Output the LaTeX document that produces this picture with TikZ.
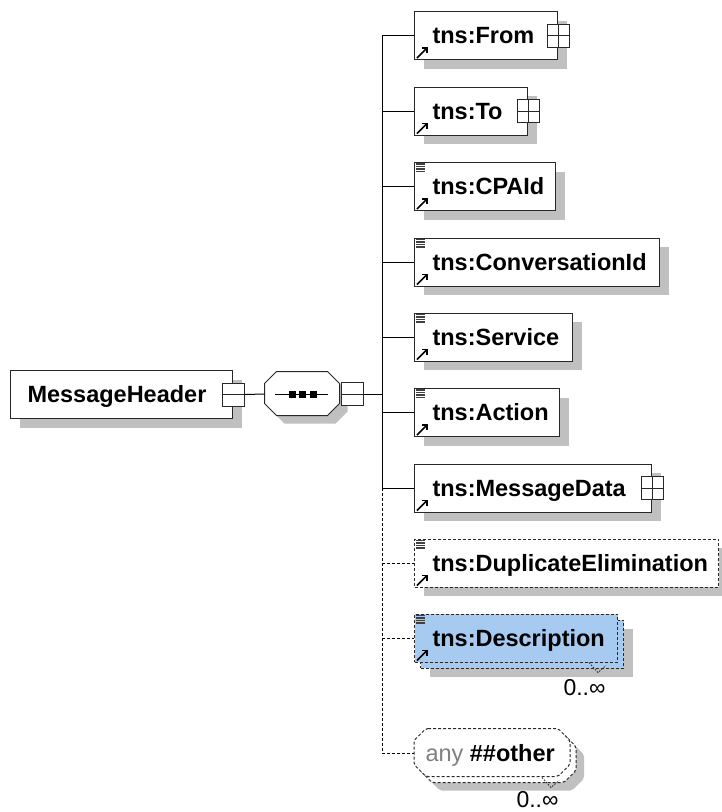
\documentclass[tikz,border=0pt]{standalone}
\usepackage{fontspec}
\setmainfont{Liberation Sans}
\usetikzlibrary{shadows}
\definecolor{shadowgray}{RGB}{192,192,192}
\definecolor{descblue}{RGB}{166,202,240}
\definecolor{anygray}{RGB}{128,128,128}
\definecolor{edge}{RGB}{40,40,40}
\newcommand\xsdlines[1]{\begin{scope}[shift={(#1.north west)}]
  \foreach \d in {2,4.5,7,9.5}{\draw[line width=1.1pt,black!75] (2,\d) -- (11,\d);}
\end{scope}}
\newcommand\xsdarrow[1]{\begin{scope}[shift={(#1.south west)},line width=1.5pt,black]
  \draw (3,-2) -- (13,-12);
  \draw (8,-12) -- (13,-12) -- (13,-7);
\end{scope}}
\begin{document}
\begin{tikzpicture}[x=1pt,y=-1pt,line width=1pt,
  elem/.style={rectangle,draw=edge,fill=white,line width=1pt,minimum height=48pt,inner sep=0pt,anchor=west},
  shad/.style={drop shadow={shadow xshift=9pt,shadow yshift=-9pt,opacity=1,fill=shadowgray,draw=none}},
  opt/.style={dash pattern=on 3pt off 2pt},
  lbl/.style={font=\bfseries\fontsize{23.5pt}{28pt}\selectfont,inner sep=0pt,anchor=base west,text=black},
  pmbox/.style={rectangle,draw=edge,fill=white,line width=1pt,minimum width=22pt,minimum height=23pt,inner sep=0pt},
  plusbox/.style={pmbox,path picture={\draw[line width=0.9pt] (path picture bounding box.north) -- (path picture bounding box.south) (path picture bounding box.west) -- (path picture bounding box.east);}},
  minusbox/.style={pmbox,path picture={\draw[line width=0.9pt] (path picture bounding box.west) -- (path picture bounding box.east);}},
  conn/.style={draw=black,line width=1pt},
  mult/.style={font=\fontsize{23pt}{28pt}\selectfont,inner sep=0pt,anchor=base east},
  chev/.style={draw=edge,line width=0.8pt,dash pattern=on 1.5pt off 1.5pt},
  frame/.style={rectangle,minimum height=48pt,inner sep=0pt,anchor=west}]
\useasboundingbox (0,0) rectangle (722,812);

% root element
\node[elem,shad,minimum width=222pt] (mh) at (10,394.5) {};
\node[lbl] (mh-t) at ([xshift=17pt,yshift=-8pt]mh.west) {MessageHeader};
\node[minusbox] (mh-pm) at (mh.east) {};

% sequence compositor
\node[rectangle,minimum width=75pt,minimum height=44pt,inner sep=0pt] (seq) at (302.5,394) {};
\begin{scope}[shift={(seq.north west)}]
  \fill[shadowgray] (20,8)--(71,8)--(83,20)--(83,40)--(71,52)--(20,52)--(8,40)--(8,20)--cycle;
  \draw[draw=edge,fill=white] (12,0)--(63,0)--(75,12)--(75,32)--(63,44)--(12,44)--(0,32)--(0,12)--cycle;
\end{scope}
\begin{scope}[shift={(seq.center)}]
  \draw (-27.5,0) -- (25.5,0);
  \fill (-13.5,-3.5) rectangle (-6.5,3.5);
  \fill (-3.5,-3.5) rectangle (3.5,3.5);
  \fill (7,-3.5) rectangle (14,3.5);
\end{scope}
\node[minusbox,anchor=west] (seq-pm) at (seq.east) {};
\draw[conn] (mh-pm.east) -- (seq.west);
\coordinate (bus) at (382,394);
\draw[conn] (seq-pm.east) -- (bus);

% children
\node[elem,shad,minimum width=143pt] (from) at (414,35.5) {};
\node[lbl] (from-t) at ([xshift=18pt,yshift=-8pt]from.west) {tns:From};
\node[plusbox] (from-pm) at (from.east) {};
\xsdarrow{from}

\node[elem,shad,minimum width=113pt] (to) at (414,111) {};
\node[lbl] (to-t) at ([xshift=18pt,yshift=-8pt]to.west) {tns:To};
\node[plusbox] (to-pm) at (to.east) {};
\xsdarrow{to}

\node[elem,shad,minimum width=141pt] (cpaid) at (414,186.5) {};
\node[lbl] (cpaid-t) at ([xshift=18pt,yshift=-8pt]cpaid.west) {tns:CPAId};
\xsdlines{cpaid}\xsdarrow{cpaid}

\node[elem,shad,minimum width=245pt] (convid) at (414,262) {};
\node[lbl] (convid-t) at ([xshift=18pt,yshift=-8pt]convid.west) {tns:ConversationId};
\xsdlines{convid}\xsdarrow{convid}

\node[elem,shad,minimum width=158pt] (service) at (414,337) {};
\node[lbl] (service-t) at ([xshift=18pt,yshift=-8pt]service.west) {tns:Service};
\xsdlines{service}\xsdarrow{service}

\node[elem,shad,minimum width=145pt] (action) at (414,412.5) {};
\node[lbl] (action-t) at ([xshift=18pt,yshift=-8pt]action.west) {tns:Action};
\xsdlines{action}\xsdarrow{action}

\node[elem,shad,minimum width=237pt] (mdata) at (414,488) {};
\node[lbl] (mdata-t) at ([xshift=18pt,yshift=-8pt]mdata.west) {tns:MessageData};
\node[plusbox] (mdata-pm) at (mdata.east) {};
\xsdarrow{mdata}

\node[elem,shad,opt,minimum width=304pt] (dupel) at (414,563) {};
\node[lbl] (dupel-t) at ([xshift=18pt,yshift=-8pt]dupel.west) {tns:DuplicateElimination};
\xsdlines{dupel}\xsdarrow{dupel}

\node[elem,shad,opt,fill=descblue,minimum width=203pt] (descb) at (420,644) {};
\node[elem,opt,fill=descblue,minimum width=203pt] (desc) at (414,638) {};
\node[lbl] (desc-t) at ([xshift=18pt,yshift=-8pt]desc.west) {tns:Description};
\xsdlines{desc}\xsdarrow{desc}
\draw[chev] ([shift={(-35,-6)}]descb.south east) -- ++(9,10) -- ++(8,-7);
\node[mult] (desc-m) at ([shift={(-18,27)}]descb.south east) {0..∞};

% wildcard
\node[frame,minimum width=156pt] (anyb) at (420,759) {};
\node[frame,minimum width=156pt] (any) at (414,753) {};
\begin{scope}[shift={(anyb.north west)}]
  \fill[shadowgray,rounded corners=2pt] (20,8)--(152,8)--(164,20)--(164,44)--(152,56)--(20,56)--(8,44)--(8,20)--cycle;
  \draw[draw=edge,fill=white,opt,rounded corners=2pt] (12,0)--(144,0)--(156,12)--(156,36)--(144,48)--(12,48)--(0,36)--(0,12)--cycle;
\end{scope}
\begin{scope}[shift={(any.north west)}]
  \draw[draw=edge,fill=white,opt,rounded corners=2pt] (12,0)--(144,0)--(156,12)--(156,36)--(144,48)--(12,48)--(0,36)--(0,12)--cycle;
\end{scope}
\node[lbl] (any-t) at ([xshift=11pt,yshift=-8pt]any.west) {\textcolor{anygray}{\mdseries any} \#\#other};
\draw[chev] ([shift={(-35,-6)}]anyb.south east) -- ++(9,10) -- ++(8,-7);
\node[mult] (any-m) at ([shift={(-18,23.5)}]anyb.south east) {0..∞};

% connectors
\draw[conn] (bus |- from.west) -- (bus |- mdata.west);
\draw[conn,opt] (bus |- mdata.west) -- (bus |- any.west);
\foreach \n in {from,to,cpaid,convid,service,action,mdata}{
  \draw[conn] (bus |- \n.west) -- (\n.west);
}
\foreach \n in {dupel,desc,any}{
  \draw[conn,opt] (bus |- \n.west) -- (\n.west);
}
\end{tikzpicture}
\end{document}
